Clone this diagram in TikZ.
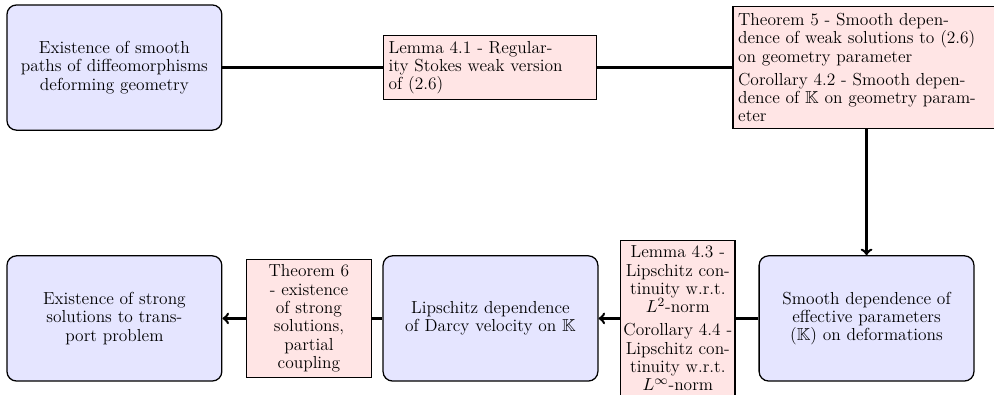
\documentclass[tikz,border=0pt]{standalone}
\usepackage{amssymb}
\usepackage{amsmath}
\usepackage{tikz}

\begin{document}
\begin{tikzpicture}[
    every node/.style={font=\fontsize{11}{11.6}\selectfont},
    bluebox/.style={draw, thick, rounded corners=6pt, fill=blue!10,
      minimum width=4.77cm, minimum height=2.78cm, text width=4.5cm, align=center},
    pinkbox/.style={draw, thick, fill=red!10},
    link/.style={ultra thick},
  ]
  \useasboundingbox (0,0) rectangle (22.07,-8.77);

  \node [bluebox] (paths) at (2.54,-1.5) {Existence of smooth\\paths of diffeomorphisms\\deforming geometry};
  \node [pinkbox, text width=4.5cm, align=left] (lemA) at (10.88,-1.5) {Lemma 4.1 - Regular-\\ity Stokes weak version\\of (2.6)};
  \node [pinkbox, text width=5.7cm, align=left, minimum height=2.71cm] (thmA) at (19.24,-1.5)
    {Theorem 5 - Smooth depen-\\dence of weak solutions to (2.6)\\on geometry parameter\\[3pt]
     Corollary 4.2 - Smooth depen-\\dence of $\mathbb{K}$ on geometry param-\\eter};

  \node [bluebox] (smooth) at (19.24,-7.07) {Smooth dependence of\\effective parameters\\($\mathbb{K}$) on deformations};
  \node [pinkbox, text width=2.5cm, inner xsep=0.5pt, align=center] (lemB) at (15.05,-7.07)
    {Lemma 4.3 -\\Lipschitz con-\\tinuity w.r.t.\\$L^2$-norm\\[3pt]
     Corollary 4.4 -\\Lipschitz con-\\tinuity w.r.t.\\$L^\infty$-norm};
  \node [bluebox] (lip) at (10.89,-7.07) {Lipschitz dependence\\of Darcy velocity on $\mathbb{K}$};
  \node [pinkbox, text width=2.55cm, align=center] (thmB) at (6.86,-7.07)
    {Theorem 6\\- existence\\of strong\\solutions,\\partial\\coupling};
  \node [bluebox] (strong) at (2.54,-7.07) {Existence of strong\\solutions to trans-\\port problem};

  \draw [link] (paths) -- (lemA);
  \draw [link] (lemA) -- (thmA);
  \draw [link, ->] (thmA) -- (smooth);
  \draw [link] (smooth) -- (lemB);
  \draw [link, ->] (lemB) -- (lip);
  \draw [link] (lip) -- (thmB);
  \draw [link, ->] (thmB) -- (strong);
\end{tikzpicture}
\end{document}
